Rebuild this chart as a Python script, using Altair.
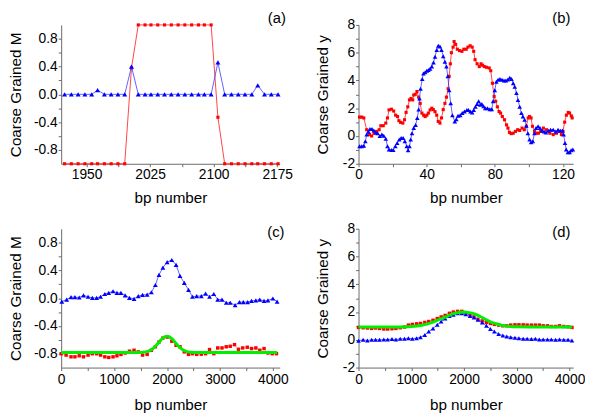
import altair as alt
import pandas as pd

FONT = "Liberation Sans"
RED = "#ff0000"
RED_LINE = "#ff3030"
BLUE = "#0000ff"
BLUE_LINE = "#3a3aff"
GREEN = "#00ee00"
AXIS_GREY = "#6a6a6a"

# ---------------- panel (a) ----------------
a_x = [1924, 1932, 1940, 1948, 1956, 1963, 1971, 1979, 1987, 1995, 2003, 2011, 2019,
       2026, 2034, 2042, 2050, 2058, 2066, 2074, 2082, 2089, 2097, 2105, 2113, 2121,
       2129, 2137, 2145, 2152, 2160, 2168, 2176]
a_blue = [0, 0, 0, 0, 0, 0.06, 0, 0, 0, 0, 0.40, 0, 0,
          0, 0, 0, 0, 0, 0, 0, 0, 0, 0, 0.46, 0, 0,
          0, 0, 0, 0.13, 0, 0, 0]
a_red = [-1, -1, -1, -1, -1, -1, -1, -1, -1, -1, 0.38, 1, 1,
         1, 1, 1, 1, 1, 1, 1, 1, 1, 1, -0.33, -1, -1,
         -1, -1, -1, -1, -1, -1, -1]

# ---------------- panel (b) ----------------
b_red_x = [0.6, 1.9, 3.1, 4.8, 6.4, 7.7, 9.1, 10.6, 12.1, 13.1, 14.5, 16.0, 17.0, 17.9,
           19.3, 20.6, 21.8, 22.9, 23.7, 24.7, 26.0, 27.0, 27.9, 28.9, 29.9, 30.8, 31.8,
           32.4, 33.3, 34.3, 35.3, 36.2, 37.2, 38.2, 39.1, 40.1, 41.0, 42.0, 43.0, 43.9,
           44.9, 45.9, 46.8, 47.8, 48.7, 49.7, 50.7, 51.6, 52.6, 53.2, 53.9, 54.5, 55.5,
           56.1, 57.0, 58.0, 59.3, 60.7, 61.8, 63.2, 64.2, 65.5, 66.7, 67.6, 68.4, 69.6,
           70.9, 71.9, 72.8, 73.8, 75.1, 76.7, 77.6, 78.6, 79.6, 80.5, 81.5, 82.5, 83.4,
           84.4, 85.7, 86.9, 87.7, 88.6, 89.6, 90.8, 92.1, 93.4, 94.6, 96.0, 97.3, 98.5,
           99.6, 100.4, 101.3, 102.1, 103.3, 104.2, 105.6, 106.9, 108.5, 110.4, 112.3,
           114.3, 116.2, 117.7, 119.1, 120.0, 121.0, 122.0, 123.1, 123.9, 124.9, 125.4]
b_red_y = [1.36, 1.36, 1.3, 0.45, 0.1, 0.0, 0.2, 0.33, 0.45, 0.74, 0.74, 0.93, 1.3, 1.88,
           1.93, 1.8, 1.5, 1.4, 1.1, 0.98, 0.93, 1.17, 1.7, 2.1, 2.6, 2.7, 2.6,
           2.95, 3.0, 3.2, 2.8, 2.35, 1.65, 1.5, 1.4, 1.5, 1.65, 1.88, 2.0, 1.9,
           1.75, 1.5, 1.05, 0.93, 1.3, 1.9, 2.35, 2.8, 3.4, 4.3, 5.2, 6.0, 6.4,
           6.8, 6.6, 6.25, 6.15, 6.1, 6.25, 6.25, 6.4, 6.5, 6.4, 6.1, 5.5, 5.2,
           5.0, 5.2, 5.1, 5.0, 4.95, 4.9, 4.7, 3.8, 2.85, 2.5, 2.1, 1.76, 1.65,
           1.4, 1.17, 0.8, 0.57, 0.26, 0.17, 0.2, 0.33, 0.45, 0.4, 0.57, 0.45, 0.7,
           1.3, 1.4, 1.3, 0.7, 0.33, 0.2, 0.2, 0.33, 0.57, 0.45, 0.2,
           0.1, 0.2, 0.33, 0.1, 0.33, 1.0, 1.5, 1.7, 1.65, 1.45, 1.3]
b_blue_x = [0.6, 1.9, 3.1, 4.0, 4.8, 5.8, 6.7, 7.9, 9.0, 10.2,
            11.2, 12.5, 13.7, 14.8, 16.0, 17.0, 17.9, 19.3, 20.4, 21.6,
            22.7, 23.9, 25.0, 26.2, 27.2, 28.3, 29.1, 29.9, 30.6, 31.4,
            32.4, 33.5, 34.5, 35.3, 35.8, 36.4, 37.4, 38.1, 39.1, 40.1,
            41.0, 42.0, 43.0, 44.0, 44.9, 45.9, 46.8, 47.8, 48.7, 49.7,
            50.7, 51.6, 52.4, 53.2, 54.1, 55.1, 56.5, 57.4, 58.4, 59.7,
            60.9, 62.2, 63.6, 64.5, 65.7, 66.7, 67.6, 68.6, 69.6, 70.5,
            71.5, 72.4, 73.4, 74.4, 75.7, 77.1, 78.2, 79.0, 80.0, 80.9,
            81.9, 83.0, 84.2, 85.4, 86.5, 87.7, 88.8, 89.8, 90.8, 91.7,
            92.7, 93.6, 94.6, 95.6, 96.5, 97.5, 98.5, 99.4, 100.4, 101.3,
            102.3, 103.3, 104.2, 105.4, 106.5, 107.7, 108.9, 110.0, 111.4, 112.7,
            114.3, 115.8, 117.1, 118.5, 119.7, 120.4, 121.2, 121.9, 122.9, 123.9,
            124.8, 125.8]
b_blue_y = [-0.74, -0.74, -0.7, -0.38, 0.1, 0.33, 0.5, 0.5, 0.4, 0.26,
            0.2, 0.0, 0.1, 0.02, -0.2, -0.74, -0.98, -1.0, -1.0, -0.74,
            -0.5, -0.26, -0.14, -0.14, -0.38, -0.74, -1.02, -0.74, -0.26, 0.2,
            0.57, 0.8, 1.3, 1.9, 2.7, 3.4, 4.1, 4.5, 4.6, 4.7,
            4.75, 4.85, 5.0, 5.3, 5.7, 6.2, 6.5, 6.45, 6.2, 5.75,
            5.35, 5.0, 4.3, 3.3, 2.35, 1.5, 1.05, 1.2, 1.45, 1.5,
            1.65, 1.76, 1.88, 1.88, 1.76, 1.7, 1.88, 2.1, 2.3, 2.5,
            2.25, 2.3, 2.15, 2.0, 2.0, 1.93, 1.93, 2.5, 3.3, 3.9,
            4.05, 4.1, 4.05, 4.0, 4.0, 4.07, 4.2, 4.1, 3.8, 3.55,
            3.1, 2.6, 2.1, 1.65, 1.4, 1.17, 0.74, 0.2, -0.26, -0.45,
            -0.38, 0.2, 0.57, 0.7, 0.57, 0.4, 0.33, 0.26, 0.38, 0.45,
            0.45, 0.33, 0.45, 0.38, 0.4, 0.1, -0.5, -0.98, -1.17, -1.17,
            -1.02, -0.98]

# ---------------- panel (c) ----------------
c_blue_x = [12, 105, 186, 260, 341, 422, 508, 589, 670, 744,
            825, 899, 980, 1054, 1129, 1209, 1290, 1377, 1457, 1538,
            1625, 1705, 1780, 1848, 1922, 2003, 2090, 2171, 2245, 2326,
            2406, 2481, 2561, 2648, 2729, 2803, 2884, 2958, 3039, 3119,
            3194, 3287, 3368, 3442, 3523, 3597, 3678, 3752, 3833, 3907,
            4000, 4080]
c_blue_y = [-0.05, -0.02, 0.015, 0.015, 0.01, 0.04, 0.02, 0.005, 0.005, 0.02,
            0.06, 0.075, 0.1, 0.075, 0.075, 0.04, 0.005, -0.01, 0.03, 0.047,
            0.05, 0.085, 0.19, 0.335, 0.44, 0.52, 0.55, 0.48, 0.32, 0.22,
            0.12, 0.02, 0.03, 0.03, 0.066, 0.02, 0.06, -0.02, -0.02, -0.066,
            -0.066, -0.1, -0.057, -0.057, -0.057, -0.04, -0.033, -0.02, -0.04, -0.033,
            -0.005, -0.05]
c_red_x = [0, 93, 186, 260, 341, 422, 508, 589, 670, 744,
           825, 899, 980, 1054, 1129, 1209, 1290, 1377, 1457, 1538,
           1625, 1705, 1780, 1848, 1922, 2003, 2090, 2171, 2245, 2326,
           2406, 2481, 2561, 2648, 2729, 2803, 2884, 2958, 3039, 3119,
           3194, 3275, 3349, 3430, 3516, 3597, 3678, 3752, 3833, 3907,
           3988, 4068]
c_red_y = [-0.8, -0.82, -0.845, -0.845, -0.83, -0.845, -0.82, -0.8, -0.8, -0.82,
           -0.845, -0.854, -0.845, -0.83, -0.81, -0.79, -0.764, -0.75, -0.774, -0.82,
           -0.81, -0.75, -0.70, -0.632, -0.575, -0.56, -0.62, -0.68, -0.70, -0.774,
           -0.81, -0.8, -0.81, -0.807, -0.8, -0.74, -0.8, -0.717, -0.717, -0.70,
           -0.693, -0.67, -0.736, -0.717, -0.707, -0.726, -0.717, -0.75, -0.726, -0.79,
           -0.8, -0.8]
c_fit_x = [0, 1000, 1400, 1550, 1650, 1750, 1800, 1850, 1900, 1950, 2000,
           2050, 2100, 2150, 2200, 2250, 2350, 2450, 2600, 3000, 4080]
c_fit_y = [-0.783, -0.783, -0.782, -0.779, -0.763, -0.715, -0.677, -0.633, -0.590, -0.559, -0.547,
           -0.559, -0.590, -0.633, -0.677, -0.715, -0.763, -0.779, -0.783, -0.783, -0.783]

# ---------------- panel (d) ----------------
d_x = [0, 87, 168, 249, 323, 398, 479, 553, 634, 709,
       790, 871, 945, 1020, 1101, 1175, 1256, 1331, 1412, 1493,
       1567, 1642, 1723, 1797, 1878, 1959, 2034, 2114, 2189, 2264,
       2345, 2425, 2500, 2575, 2656, 2736, 2811, 2886, 2966, 3041,
       3122, 3197, 3277, 3352, 3427, 3501, 3582, 3656, 3737, 3811,
       3892, 3972, 4047]
d_blue = [-0.07, 0.0, -0.05, 0.0, 0.0, 0.0, 0.02, 0.02, 0.05, 0.02,
          0.07, 0.07, 0.12, 0.07, 0.12, 0.19, 0.35, 0.59, 0.82, 1.08,
          1.32, 1.53, 1.72, 1.81, 1.91, 1.91, 1.84, 1.72, 1.6, 1.44,
          1.25, 1.01, 0.78, 0.59, 0.42, 0.31, 0.24, 0.19, 0.14, 0.12,
          0.07, 0.07, 0.05, 0.07, 0.02, 0.02, 0.02, 0.02, 0.0, 0.02,
          0.0, 0.0, -0.05]
d_red = [0.89, 0.87, 0.85, 0.82, 0.85, 0.82, 0.78, 0.78, 0.8, 0.82,
         0.87, 0.92, 1.06, 1.11, 1.15, 1.18, 1.25, 1.32, 1.41, 1.53,
         1.65, 1.76, 1.91, 2.0, 2.05, 2.05, 1.95, 1.79, 1.65, 1.48,
         1.36, 1.25, 1.18, 1.11, 1.06, 1.01, 1.01, 1.06, 1.08, 1.08,
         1.08, 1.06, 1.06, 1.06, 1.06, 1.01, 1.01, 0.96, 0.96, 1.01,
         0.96, 0.94, 0.89]
d_fit_x = [0, 500, 800, 1000, 1200, 1400, 1500, 1600, 1700, 1800, 1900, 2000,
           2100, 2200, 2300, 2400, 2500, 2600, 2700, 2800, 3000, 3500, 4050]
d_fit_y = [0.92, 0.92, 0.93, 0.96, 1.05, 1.25, 1.42, 1.57, 1.73, 1.88, 1.97, 2.0,
           1.96, 1.86, 1.70, 1.48, 1.3, 1.17, 1.06, 1.0, 0.94, 0.92, 0.92]

# tick values (majors get labels, the in-between ones are unlabelled)
a_xticks = [1950, 1987.5, 2025, 2062.5, 2100, 2137.5, 2175]
m_yticks = [-0.8, -0.6, -0.4, -0.2, 0.0, 0.2, 0.4, 0.6, 0.8]
b_xticks = [0, 20, 40, 60, 80, 100, 120]
y_yticks = [-2, -1, 0, 1, 2, 3, 4, 5, 6, 7, 8]
c_xticks = [0, 500, 1000, 1500, 2000, 2500, 3000, 3500, 4000]

NEG = "(datum.value < 0 ? '-' : '') + format(abs(datum.value), '{f}')"
LAB_A_X = "round(datum.value - 1950) % 75 == 0 ? format(datum.value, 'd') : ''"
LAB_B_X = "datum.value % 40 == 0 ? format(datum.value, 'd') : ''"
LAB_C_X = "datum.value % 1000 == 0 ? format(datum.value, 'd') : ''"
LAB_M_Y = "abs(round(datum.value * 10)) % 4 == 0 ? " + NEG.format(f=".1f") + " : ''"
LAB_Y_Y = "abs(round(datum.value)) % 2 == 0 ? " + NEG.format(f="d") + " : ''"


def panel(w, h, xdom, ydom, xlab, ylab, ytitle, xvals, yvals,
          series, fits, label, label_xy, lab_pad_x, title_pad_x, title_pad_y):
    xs = alt.Scale(domain=xdom, nice=False, zero=False)
    ys = alt.Scale(domain=ydom, nice=False, zero=False)
    xax = alt.Axis(values=xvals, labelExpr=xlab, title="bp number",
                   labelPadding=lab_pad_x, titlePadding=title_pad_x,
                   grid=False, labelFlush=False, labelOverlap=False)
    yax = alt.Axis(values=yvals, labelExpr=ylab, title=ytitle,
                   labelPadding=1, titlePadding=title_pad_y,
                   grid=False, labelFlush=False, labelOverlap=False)
    X = alt.X("x:Q", scale=xs, axis=xax)
    Y = alt.Y("y:Q", scale=ys, axis=yax)
    layers = []
    for (sx, sy, pcol, lcol, shape, size, lw, lop) in series:
        d = pd.DataFrame({"x": sx, "y": sy})
        base = alt.Chart(d).encode(x=X, y=Y)
        layers.append(base.mark_line(color=lcol, strokeWidth=lw, opacity=lop))
        layers.append(base.mark_point(shape=shape, size=size, filled=True,
                                      color=pcol, opacity=1, strokeWidth=0))
    for (fx, fy) in fits:
        d = pd.DataFrame({"x": fx, "y": fy})
        layers.append(alt.Chart(d).mark_line(color=GREEN, strokeWidth=3,
                                             interpolate="monotone").encode(x=X, y=Y))
    ld = pd.DataFrame({"t": [label]})
    layers.append(alt.Chart(ld).mark_text(font=FONT, fontSize=15, align="center",
                                          baseline="middle", color="black").encode(
        text="t:N", x=alt.value(label_xy[0]), y=alt.value(label_xy[1])))
    return alt.layer(*layers).properties(width=w, height=h)


W1, W2, H = 222, 218, 141

pa = panel(W1, H, [1920, 2178], [-1, 1], LAB_A_X, LAB_M_Y, "Coarse Grained M",
           a_xticks, m_yticks,
           [(a_x, a_red, RED, RED_LINE, "square", 10, 1, 0.9),
            (a_x, a_blue, BLUE, BLUE_LINE, "triangle-up", 26, 1, 0.8)],
           [], "(a)", (219, -6.5), 1, 9, 10)
pb = panel(W2, H, [0, 126], [-2, 8], LAB_B_X, LAB_Y_Y, "Coarse Grained y",
           b_xticks, y_yticks,
           [(b_red_x, b_red_y, RED, RED_LINE, "square", 10, 1, 0.9),
            (b_blue_x, b_blue_y, BLUE, BLUE_LINE, "triangle-up", 22, 1, 0.8)],
           [], "(b)", (206, -6.5), 1, 9, 12)
pc = panel(W1, H, [0, 4130], [-1, 1], LAB_C_X, LAB_M_Y, "Coarse Grained M",
           c_xticks, m_yticks,
           [(c_red_x, c_red_y, RED, RED_LINE, "square", 12, 0.6, 0.6),
            (c_blue_x, c_blue_y, BLUE, BLUE_LINE, "triangle-up", 24, 1, 0.8)],
           [(c_fit_x, c_fit_y)], "(c)", (218, 3), 2, 12, 10)
pd_ = panel(W2, H, [0, 4070], [-2, 8], LAB_C_X, LAB_Y_Y, "Coarse Grained y",
            c_xticks, y_yticks,
            [(d_x, d_red, RED, RED_LINE, "square", 12, 0.6, 0.6),
             (d_x, d_blue, BLUE, BLUE_LINE, "triangle-up", 22, 1, 0.8)],
            [(d_fit_x, d_fit_y)], "(d)", (206, 3), 2, 12, 12)

chart = alt.concat(pa, pb, pc, pd_, columns=2, spacing={"row": 66, "column": 80},
                   bounds="flush").properties(padding=0).configure_view(
    stroke=None).configure_axis(
    labelFont=FONT, titleFont=FONT, labelFontSize=14, titleFontSize=15.5,
    labelColor="black", titleColor="black", titleFontWeight="normal",
    domainColor=AXIS_GREY, domainWidth=1, tickColor=AXIS_GREY, tickSize=3,
    tickWidth=1)

chart.save("out.html", embed_options={"renderer": "svg", "actions": False})
